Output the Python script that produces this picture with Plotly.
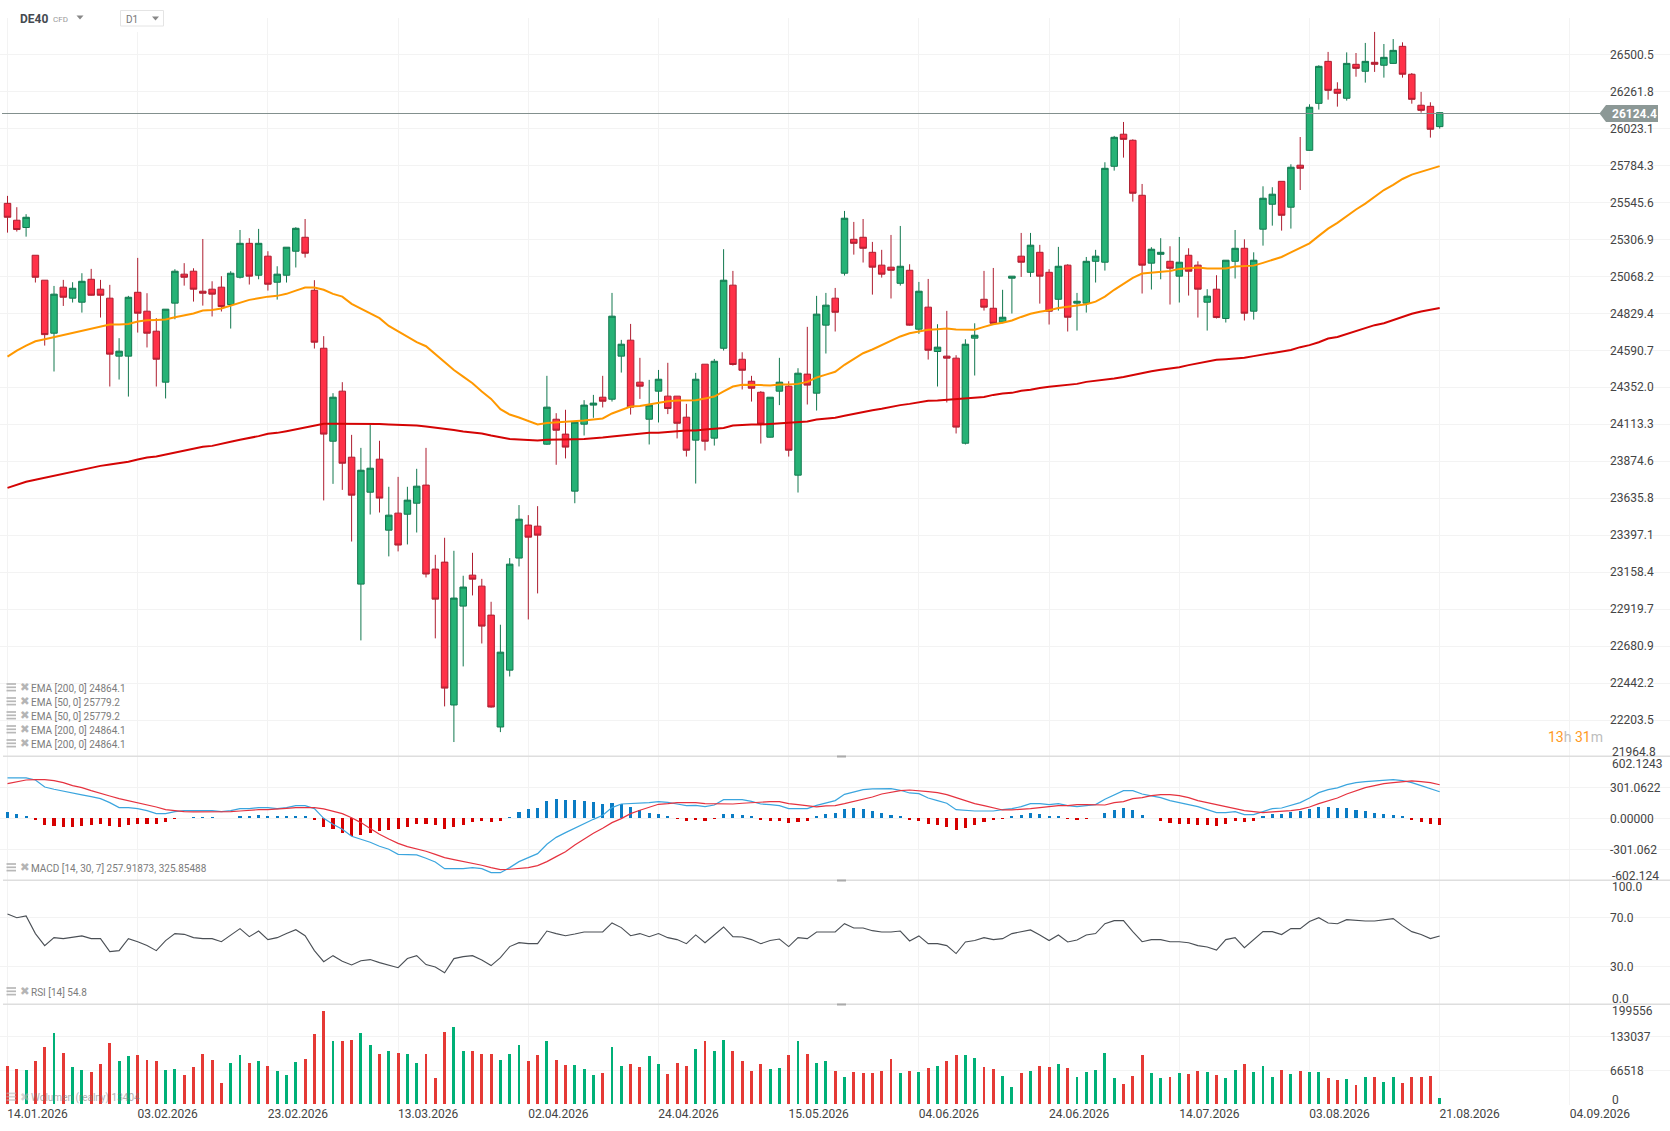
import plotly.graph_objects as go

WIDTH = 1670
HEIGHT = 1131

tick_every = 14
date_labels = ['14.01.2026', '03.02.2026', '23.02.2026', '13.03.2026', '02.04.2026', '24.04.2026', '15.05.2026',
               '04.06.2026', '24.06.2026', '14.07.2026', '03.08.2026', '21.08.2026', '04.09.2026']
price_ticks = [26500.5, 26261.8, 26023.1, 25784.3, 25545.6, 25306.9, 25068.2, 24829.4, 24590.7, 24352.0,
               24113.3, 23874.6, 23635.8, 23397.1, 23158.4, 22919.7, 22680.9, 22442.2, 22203.5]
macd_ticks = [301.0622, 0, -301.062]
macd_tick_text = ['301.0622', '0.00000', '-301.062']
rsi_ticks = [70, 30]
volume_ticks = [133037, 66518]

last_price = 26124.4

open_ = [25539, 25430, 25383, 25204, 25043, 24701, 24998, 24927, 24901, 25049,
         24985, 24927, 24553, 24553, 24965, 24843, 24714, 24385, 24895, 25082,
         25101, 24972, 24985, 24998, 24886, 25062, 25281, 25075, 25198, 25030,
         25075, 25230, 25320, 24978, 24604, 24004, 24327, 23901, 23082, 23675,
         23888, 23430, 23540, 23533, 23604, 23721, 23179, 23224, 22302, 22940,
         23140, 23069, 22882, 22160, 22527, 23250, 23463, 23456, 23985, 24146,
         24050, 23682, 24114, 24237, 24288, 24275, 24553, 24656, 24385, 24146,
         24327, 24295, 24295, 24159, 24011, 24501, 24024, 24604, 25011, 24533,
         24391, 24320, 24030, 24327, 24359, 23785, 24437, 24314, 24753, 24927,
         25088, 25307, 25320, 25223, 25140, 25127, 25023, 25107, 24727, 24869,
         24583, 24553, 24540, 23991, 24669, 24920, 24862, 24772, 25056, 25198,
         25094, 25223, 25094, 24920, 25140, 24895, 24895, 25165, 25159, 25778,
         25985, 25946, 25591, 25153, 25210, 25165, 25069, 25204, 25140, 24901,
         24985, 24796, 25165, 25249, 24843, 25372, 25533, 25681, 25514, 25785,
         25881, 26184, 26455, 26275, 26217, 26436, 26391, 26449, 26430, 26442,
         26552, 26372, 26172, 26165, 26034]

close = [25449, 25370, 25449, 25062, 24692, 24953, 24933, 24991, 25036, 24946,
         24946, 24566, 24585, 24933, 24830, 24701, 24533, 24856, 25101, 25062,
         24985, 24959, 24953, 24873, 25088, 25281, 25069, 25281, 25017, 25082,
         25256, 25378, 25217, 24643, 24050, 24288, 23862, 23656, 23817, 23830,
         23637, 23527, 23334, 23624, 23714, 23147, 22985, 22411, 22992, 23063,
         23114, 22811, 22289, 22643, 23211, 23501, 23385, 23398, 24224, 24075,
         23966, 24127, 24237, 24250, 24262, 24811, 24630, 24224, 24359, 24237,
         24404, 24215, 24120, 23946, 24404, 24004, 24520, 25043, 24499, 24462,
         24346, 24114, 24288, 24385, 23946, 24443, 24366, 24824, 24882, 24836,
         25443, 25281, 25249, 25127, 25082, 25107, 25133, 24753, 24972, 24591,
         24611, 24540, 24095, 24630, 24688, 24869, 24765, 24804, 25069, 25159,
         25269, 25069, 24843, 25133, 24804, 24907, 25165, 25198, 25765, 25965,
         25952, 25604, 25140, 25243, 25223, 25120, 25159, 25101, 24985, 24940,
         24802, 25172, 25249, 24830, 25172, 25572, 25598, 25462, 25772, 25765,
         26159, 26423, 26268, 26249, 26442, 26410, 26455, 26436, 26481, 26526,
         26372, 26210, 26139, 26017, 26124]

high = [25587, 25514, 25469, 25204, 25043, 25006, 25045, 25030, 25088, 25116,
        25045, 25013, 24669, 24942, 25187, 24959, 24798, 24856, 25114, 25153,
        25120, 25309, 25036, 25069, 25101, 25367, 25314, 25374, 25230, 25133,
        25256, 25385, 25438, 25043, 24682, 24314, 24385, 24045, 23961, 24110,
        24007, 23710, 23774, 23710, 23826, 23961, 23271, 23381, 23297, 23136,
        23284, 23116, 22968, 22820, 23250, 23592, 23527, 23585, 24426, 24185,
        24207, 24133, 24269, 24303, 24426, 24961, 24658, 24761, 24542, 24400,
        24464, 24510, 24295, 24245, 24445, 24501, 24535, 25243, 25103, 24578,
        24426, 24327, 24288, 24542, 24391, 24475, 24742, 24942, 24961, 24993,
        25490, 25419, 25438, 25290, 25239, 25335, 25393, 25146, 25032, 25051,
        24759, 24845, 24559, 24662, 24765, 25103, 25122, 24981, 25069, 25348,
        25348, 25271, 25114, 25258, 25146, 24961, 25193, 25239, 25804, 25974,
        26064, 25952, 25664, 25256, 25314, 25262, 25322, 25249, 25165, 24985,
        25075, 25172, 25367, 25307, 25223, 25649, 25643, 25681, 25791, 25967,
        26178, 26430, 26516, 26320, 26513, 26509, 26574, 26645, 26567, 26599,
        26578, 26380, 26258, 26191, 26126]

low = [25350, 25357, 25324, 25028, 24621, 24454, 24877, 24899, 24834, 24944,
       24802, 24357, 24402, 24292, 24705, 24609, 24357, 24280, 24791, 25008,
       24905, 24879, 24809, 24841, 24731, 25054, 25015, 25049, 24976, 24918,
       25028, 25125, 25189, 24602, 23622, 23729, 23690, 23357, 22719, 23531,
       23544, 23261, 23293, 23338, 23415, 23125, 22732, 22293, 22063, 22551,
       23009, 22699, 22285, 22127, 22486, 23196, 22854, 23022, 23981, 23852,
       23893, 23604, 24041, 24155, 24222, 24260, 24447, 24176, 24277, 23983,
       24125, 24179, 24022, 23905, 23731, 23944, 23976, 24589, 24492, 24338,
       24260, 23989, 24028, 24237, 23905, 23673, 24241, 24202, 24570, 24712,
       25073, 25208, 25157, 24950, 25060, 24925, 25008, 24750, 24697, 24531,
       24357, 24254, 24054, 23983, 24428, 24847, 24763, 24765, 24828, 25064,
       25064, 24892, 24757, 24847, 24712, 24718, 24834, 25028, 25105, 25750,
       25834, 25550, 24957, 24983, 25049, 24886, 24899, 24944, 24802, 24718,
       24796, 24770, 25054, 24783, 24789, 25266, 25395, 25363, 25376, 25625,
       25878, 26144, 26208, 26163, 26202, 26356, 26318, 26387, 26350, 26440,
       26350, 26182, 26124, 25963, 26021]

ema50 = [24550, 24589, 24621, 24649, 24662, 24675, 24692, 24705, 24718, 24731,
         24744, 24757, 24757, 24761, 24776, 24785, 24787, 24789, 24804, 24815,
         24828, 24847, 24851, 24860, 24879, 24899, 24916, 24927, 24937, 24942,
         24955, 24976, 24996, 24996, 24981, 24955, 24937, 24890, 24860, 24830,
         24798, 24748, 24712, 24675, 24643, 24617, 24566, 24516, 24464, 24421,
         24378, 24325, 24277, 24211, 24176, 24157, 24136, 24112, 24121, 24125,
         24129, 24131, 24138, 24144, 24151, 24183, 24206, 24228, 24232, 24241,
         24254, 24262, 24267, 24267, 24269, 24280, 24292, 24325, 24357, 24368,
         24368, 24366, 24363, 24370, 24370, 24374, 24387, 24415, 24434, 24452,
         24497, 24533, 24572, 24596, 24624, 24652, 24680, 24701, 24714, 24723,
         24727, 24731, 24725, 24723, 24723, 24742, 24759, 24768, 24783, 24806,
         24826, 24839, 24849, 24864, 24871, 24877, 24888, 24905, 24937, 24981,
         25017, 25058, 25086, 25092, 25097, 25103, 25116, 25120, 25125, 25118,
         25116, 25118, 25131, 25135, 25137, 25155, 25172, 25193, 25223, 25253,
         25281, 25329, 25376, 25413, 25458, 25499, 25537, 25583, 25625, 25658,
         25696, 25724, 25742, 25759, 25779]

ema200 = [23703, 23723, 23742, 23755, 23768, 23781, 23794, 23809, 23822, 23835,
          23845, 23854, 23862, 23871, 23886, 23899, 23905, 23918, 23931, 23942,
          23955, 23968, 23974, 23985, 24000, 24013, 24024, 24037, 24052, 24058,
          24069, 24082, 24093, 24105, 24116, 24116, 24116, 24117, 24116, 24116,
          24115, 24112, 24110, 24108, 24105, 24099, 24093, 24084, 24077, 24067,
          24060, 24054, 24041, 24028, 24019, 24015, 24013, 24009, 24013, 24013,
          24015, 24017, 24019, 24022, 24028, 24034, 24039, 24045, 24052, 24058,
          24058, 24065, 24069, 24073, 24073, 24080, 24086, 24090, 24105, 24110,
          24112, 24112, 24116, 24118, 24123, 24125, 24131, 24144, 24151, 24155,
          24168, 24181, 24194, 24204, 24213, 24226, 24237, 24245, 24254, 24265,
          24267, 24271, 24277, 24280, 24284, 24290, 24303, 24312, 24316, 24329,
          24336, 24348, 24355, 24361, 24368, 24374, 24387, 24394, 24400, 24409,
          24419, 24432, 24443, 24456, 24465, 24473, 24482, 24495, 24505, 24516,
          24529, 24533, 24537, 24542, 24553, 24563, 24574, 24583, 24593, 24611,
          24624, 24643, 24667, 24677, 24695, 24712, 24733, 24753, 24765, 24787,
          24808, 24826, 24841, 24851, 24864.1]

macd_line = [392, 392, 392, 372, 304, 282, 262, 243, 227, 210,
             191, 152, 104, 104, 94, 74, 45, 45, 65, 74,
             74, 74, 74, 65, 74, 94, 94, 104, 104, 94,
             104, 123, 123, 94, 0, -58, -107, -175, -204, -233,
             -272, -301, -350, -356, -356, -388, -424, -489, -489, -489,
             -479, -489, -528, -528, -479, -421, -382, -343, -252, -185,
             -139, -94, -49, -10, 29, 104, 139, 142, 152, 152,
             162, 155, 139, 123, 126, 113, 129, 181, 181, 181,
             165, 139, 133, 123, 94, 97, 94, 126, 152, 172,
             233, 259, 278, 285, 288, 288, 272, 246, 240, 197,
             172, 146, 84, 74, 71, 71, 71, 84, 94, 113,
             142, 142, 133, 142, 123, 113, 123, 133, 185, 227,
             269, 269, 236, 217, 201, 172, 155, 133, 113, 84,
             55, 55, 65, 36, 36, 65, 94, 100, 129, 152,
             197, 249, 278, 295, 327, 346, 356, 363, 372, 375,
             366, 346, 317, 288, 257.9]

macd_signal = [337, 353, 372, 375, 375, 366, 346, 317, 298, 269,
               240, 217, 191, 172, 152, 133, 110, 84, 71, 65,
               62, 62, 62, 62, 65, 71, 78, 84, 84, 94,
               97, 104, 104, 104, 91, 71, 45, 6, -42, -100,
               -155, -201, -243, -275, -295, -320, -350, -382, -401, -418,
               -437, -456, -479, -498, -495, -489, -479, -460, -421, -372,
               -324, -259, -201, -146, -97, -42, -3, 45, 78, 107,
               136, 142, 152, 152, 152, 142, 139, 139, 139, 146,
               152, 155, 162, 162, 142, 133, 120, 110, 120, 123,
               142, 162, 188, 207, 236, 256, 269, 275, 269, 259,
               249, 230, 201, 172, 142, 123, 104, 81, 81, 84,
               94, 104, 113, 123, 123, 133, 133, 133, 129, 152,
               162, 191, 201, 220, 230, 230, 220, 201, 172, 152,
               133, 113, 94, 74, 65, 55, 62, 65, 74, 87,
               110, 142, 172, 197, 236, 269, 298, 317, 337, 346,
               356, 363, 356, 346, 325.9]

macd_hist = [62, 42, 23, -13, -65, -74, -84, -84, -74, -65,
             -55, -74, -84, -65, -55, -55, -55, -36, -6, 0,
             6, 6, 6, 0, 0, 23, 23, 32, 10, 10,
             10, 23, 23, -16, -84, -104, -142, -175, -162, -142,
             -123, -113, -104, -84, -55, -55, -65, -104, -84, -65,
             -36, -26, -36, -26, 6, 62, 91, 100, 168, 188,
             178, 178, 168, 159, 139, 149, 139, 110, 81, 52,
             42, 10, -6, -26, -16, -26, -6, 42, 42, 32,
             10, -19, -26, -26, -45, -36, -26, 10, 42, 52,
             91, 100, 91, 71, 52, 32, 10, -16, -26, -55,
             -65, -84, -113, -94, -65, -36, -16, -6, 23, 32,
             52, 42, 23, 23, -6, -16, -6, 0, 52, 81,
             100, 81, 32, 0, -26, -45, -55, -55, -65, -65,
             -74, -55, -26, -36, -26, 10, 42, 42, 62, 71,
             91, 110, 110, 100, 100, 81, 71, 52, 42, 32,
             10, -16, -36, -55, -65]

rsi = [72.7, 69.7, 71.1, 56.7, 46.9, 53.4, 52.6, 53.9, 54.8, 52.6,
       52.6, 42.0, 42.8, 52.6, 50.1, 46.9, 42.8, 51.0, 56.7, 56.1,
       53.4, 52.6, 52.6, 50.1, 55.6, 60.8, 54.2, 58.8, 51.8, 53.4,
       56.7, 59.9, 55.0, 42.8, 33.8, 38.7, 34.1, 31.1, 34.6, 35.5,
       33.0, 31.1, 28.9, 36.3, 38.7, 31.4, 29.5, 24.8, 36.3, 37.9,
       38.7, 35.2, 30.6, 37.1, 46.1, 49.3, 48.5, 48.5, 58.8, 56.7,
       55.0, 56.4, 58.0, 58.0, 58.0, 65.4, 61.6, 55.0, 56.7, 54.2,
       56.7, 53.4, 51.8, 48.5, 55.6, 49.3, 55.9, 62.1, 54.2, 53.9,
       51.8, 48.5, 51.0, 52.3, 46.1, 53.4, 52.6, 58.0, 58.0, 58.0,
       64.8, 61.3, 61.3, 59.1, 58.0, 58.0, 58.8, 50.7, 54.8, 48.5,
       48.5, 46.9, 40.4, 49.9, 51.0, 53.4, 51.8, 52.6, 56.7, 58.3,
       59.7, 55.6, 51.0, 55.6, 49.9, 51.5, 55.6, 56.7, 64.8, 67.3,
       67.3, 58.3, 50.1, 51.8, 51.8, 50.1, 50.1, 49.3, 46.9, 45.8,
       43.3, 51.8, 53.4, 45.2, 51.8, 58.3, 58.3, 55.9, 60.8, 60.8,
       66.5, 69.7, 65.4, 64.8, 68.1, 67.3, 67.0, 67.0, 68.1, 68.9,
       63.2, 58.3, 55.9, 52.6, 54.8]

volume = [75632, 69764, 67808, 85412, 112796, 140180, 101060, 73676, 67808, 63896,
          79544, 120620, 85412, 95192, 97148, 87368, 85412, 67808, 69764, 58028,
          73676, 99104, 87368, 42380, 81500, 97148, 81500, 85412, 75632, 65852,
          58028, 83456, 89324, 138224, 183212, 124532, 124532, 126488, 140180, 116708,
          99104, 104972, 101060, 99104, 81500, 99104, 52160, 142136, 151916, 104972,
          104972, 99104, 99104, 87368, 99104, 116708, 85412, 97148, 124532, 87368,
          77588, 77588, 69764, 58028, 61940, 112796, 75632, 79544, 73676, 95192,
          79544, 59984, 81500, 75632, 108884, 124532, 104972, 126488, 104972, 85412,
          65852, 79544, 69764, 71720, 97148, 124532, 99104, 81500, 85412, 65852,
          54116, 63896, 61940, 61940, 65852, 89324, 61940, 65852, 63896, 71720,
          75632, 85412, 97148, 97148, 91280, 73676, 69764, 56072, 34556, 61940,
          65852, 75632, 73676, 79544, 71720, 54116, 63896, 67808, 101060, 52160,
          40424, 56072, 97148, 61940, 52160, 54116, 61940, 59984, 65852, 63896,
          58028, 52160, 67808, 79544, 63896, 75632, 54116, 67808, 59984, 65852,
          63896, 63896, 52160, 48248, 50204, 38468, 54116, 54116, 44336, 54116,
          42380, 54116, 54116, 56072, 13404]

legend_ema = ['EMA [200, 0] 24864.1', 'EMA [50, 0] 25779.2', 'EMA [50, 0] 25779.2',
              'EMA [200, 0] 24864.1', 'EMA [200, 0] 24864.1']


def px_x(x):
    return x / WIDTH


def px_y(y):
    return 1 - y / HEIGHT


candle_x = list(range(len(close)))
# one candle is 9.3 px wide in the picture, first one sits 7.5 px from the left edge
x_range = [-7.5 / 9.3, (WIDTH - 7.5) / 9.3]

up_vol = '#00B077'
down_vol = '#E53935'
vol_colors = [up_vol if c >= o else down_vol for o, c in zip(open_, close)]
hist_colors = ['#0A7CC4' if h >= 0 else '#D60000' for h in macd_hist]

fig = go.Figure()

fig.add_trace(go.Candlestick(
    x=candle_x, open=open_, high=high, low=low, close=close, yaxis='y',
    increasing=dict(line=dict(color='#12784F', width=1), fillcolor='#26B276'),
    decreasing=dict(line=dict(color='#AE1E30', width=1), fillcolor='#FF3148'),
    whiskerwidth=0,
))
fig.add_trace(go.Scatter(x=candle_x, y=ema200, mode='lines', yaxis='y', line=dict(color='#D40404', width=2)))
fig.add_trace(go.Scatter(x=candle_x, y=ema50, mode='lines', yaxis='y', line=dict(color='#FF9800', width=2)))

fig.add_trace(go.Bar(x=candle_x, y=macd_hist, yaxis='y2', marker=dict(color=hist_colors, line_width=0), width=0.33))
fig.add_trace(go.Scatter(x=candle_x, y=macd_line, mode='lines', yaxis='y2', line=dict(color='#3BA5DE', width=1.2)))
fig.add_trace(go.Scatter(x=candle_x, y=macd_signal, mode='lines', yaxis='y2', line=dict(color='#E5323F', width=1.2)))

fig.add_trace(go.Scatter(x=candle_x, y=rsi, mode='lines', yaxis='y3', line=dict(color='#4A4F55', width=1.1)))

fig.add_trace(go.Bar(x=candle_x, y=volume, yaxis='y4', marker=dict(color=vol_colors, line_width=0), width=0.32))

grid = '#F3F3F3'
label_font = dict(family='Roboto', size=12, color='#444444')
y_axis_base = dict(side='right', anchor='free', position=px_x(1609), showgrid=True, gridcolor=grid, gridwidth=1,
                   zeroline=False, showline=False, ticks='', tickfont=label_font, fixedrange=True)

fig.update_layout(
    width=WIDTH, height=HEIGHT, autosize=False, showlegend=False,
    margin=dict(l=0, r=0, t=0, b=0), paper_bgcolor='white', plot_bgcolor='white',
    bargap=0, hovermode=False, boxgap=0.3, boxgroupgap=0,
    xaxis=dict(domain=[0, 1], range=x_range, anchor='y4', rangeslider=dict(visible=False),
               tickmode='array', tickvals=[i * tick_every for i in range(len(date_labels))], ticktext=date_labels,
               showgrid=True, gridcolor=grid, gridwidth=1, zeroline=False, showline=False, ticks='',
               tickfont=label_font, ticklabelshift=30, ticklabelstandoff=0),
    yaxis=dict(y_axis_base, domain=[px_y(756.3), 1], range=[21971, 26851],
               tickmode='array', tickvals=price_ticks, ticktext=['%.1f' % p for p in price_ticks]),
    yaxis2=dict(y_axis_base, domain=[px_y(880.3), px_y(756.3)], range=[-602.12, 602.12],
                tickmode='array', tickvals=macd_ticks, ticktext=macd_tick_text),
    yaxis3=dict(y_axis_base, domain=[px_y(1004.3), px_y(880.3)], range=[-1, 100.2],
                tickmode='array', tickvals=rsi_ticks, ticktext=['70.0', '30.0']),
    yaxis4=dict(y_axis_base, domain=[px_y(1104.7), px_y(1004.3)], range=[0, 196430],
                tickmode='array', tickvals=volume_ticks, ticktext=[str(v) for v in volume_ticks]),
)

shapes = []
# header strip hides the top of the grid, same as the toolbar in the platform
shapes.append(dict(type='rect', xref='paper', yref='paper', x0=0, x1=1, y0=px_y(18), y1=1,
                   fillcolor='white', line_width=0, layer='above'))
shapes.append(dict(type='rect', xref='paper', yref='paper', x0=px_x(100), x1=px_x(170), y0=px_y(32), y1=px_y(17),
                   fillcolor='white', line_width=0, layer='above'))
shapes.append(dict(type='rect', xref='paper', yref='paper', x0=px_x(120.5), x1=px_x(163.5), y0=px_y(26), y1=px_y(10.5),
                   fillcolor='white', line=dict(color='#E4E4E4', width=1), layer='above'))

# last price line and tag
shapes.append(dict(type='line', xref='paper', yref='paper', x0=px_x(2), x1=px_x(1600), y0=px_y(113.5), y1=px_y(113.5),
                   line=dict(color='#83908E', width=1), layer='above'))
shapes.append(dict(type='path', xref='paper', yref='paper', line_width=0, fillcolor='#8C9896', layer='above',
                   path='M %f %f L %f %f L %f %f L %f %f L %f %f Z' % (
                       px_x(1599.5), px_y(113.5), px_x(1606), px_y(105), px_x(1658), px_y(105),
                       px_x(1658), px_y(122), px_x(1606), px_y(122))))

# panel borders with the little drag handles
for border in [756.3, 880.3, 1004.3]:
    shapes.append(dict(type='line', xref='paper', yref='paper', x0=px_x(3), x1=1, y0=px_y(border), y1=px_y(border),
                       line=dict(color='#DEDEDE', width=1.5), layer='above'))
    shapes.append(dict(type='rect', xref='paper', yref='paper', x0=px_x(837), x1=px_x(846), y0=px_y(border + 1.2),
                       y1=px_y(border - 0.8), fillcolor='#AAAAAA', line_width=0, layer='above'))

# icons in front of the indicator rows
legend_rows = [(688.3, 1.0), (702.3, 1.0), (716.3, 1.0), (730.3, 1.0), (744.3, 1.0), (868.3, 1.0), (992.3, 1.0),
               (1097.7, 0.6)]
for row_y, row_opacity in legend_rows:
    for bar_dy in [-4.3, -1.0, 2.3]:
        shapes.append(dict(type='line', xref='paper', yref='paper', x0=px_x(6.5), x1=px_x(16), y0=px_y(row_y + bar_dy),
                           y1=px_y(row_y + bar_dy), line=dict(color='#B8B8B8', width=1.7), layer='above',
                           opacity=row_opacity))

for tri_x, cy in [(80, 17.5), (155.5, 18.5)]:
    shapes.append(dict(type='path', xref='paper', yref='paper', line_width=0, fillcolor='#888888', layer='above',
                       path='M %f %f L %f %f L %f %f Z' % (px_x(tri_x - 3.5), px_y(cy - 2), px_x(tri_x + 3.5), px_y(cy - 2),
                                                           px_x(tri_x), px_y(cy + 2))))
fig.update_layout(shapes=shapes)


def add_text(x, y, text, size=12, color='#444444', family='Roboto', anchor='left'):
    fig.add_annotation(xref='paper', yref='paper', x=px_x(x), y=px_y(y), text=text, showarrow=False,
                       xanchor=anchor, yanchor='middle', align=anchor, borderpad=0, borderwidth=0,
                       font=dict(family=family, size=size, color=color))


def add_legend_row(y, text, opacity=1.0):
    fig.add_annotation(xref='paper', yref='paper', x=px_x(18.5), y=px_y(y - 1), text='✖', showarrow=False,
                       xanchor='left', yanchor='middle', opacity=opacity, borderpad=0,
                       font=dict(family='DejaVu Sans', size=11.5, color='#B5B5B5'))
    fig.add_annotation(xref='paper', yref='paper', x=px_x(30), y=px_y(y), text=text, showarrow=False,
                       xanchor='left', yanchor='middle', opacity=opacity, borderpad=0,
                       font=dict(family='Roboto', size=10, color='#7C7C7C'))


# top left symbol box
add_text(19.5, 18.5, '<b>DE40</b>', size=12, color='#454A50')
add_text(52.5, 19.5, 'CFD', size=8, color='#999999')
add_text(126, 19.5, 'D1', size=10, color='#777777')

add_text(1611.5, 114, '<b>%.1f</b>' % last_price, size=12, color='white')

# edge labels are pushed inside the panel by the platform
add_text(1611.5, 751.5, '21964.8')
add_text(1611.5, 764, '602.1243')
add_text(1611.5, 875.5, '-602.124')
add_text(1611.5, 886.5, '100.0')
add_text(1611.5, 998.5, '0.0')
add_text(1611.5, 1010.5, '199556')
add_text(1611.5, 1100, '0')

fig.add_annotation(xref='paper', yref='paper', x=px_x(1547), y=px_y(737), showarrow=False, xanchor='left',
                   yanchor='middle', borderpad=0,
                   text='<span style="color:#FF9A1F">13</span><span style="color:#BDBDBD">h</span> '
                        '<span style="color:#FF9A1F">31</span><span style="color:#BDBDBD">m</span>',
                   font=dict(family='Roboto', size=14, color='#FF9A1F'))

for row_y, row_text in zip([688.3, 702.3, 716.3, 730.3, 744.3], legend_ema):
    add_legend_row(row_y, row_text)
add_legend_row(868.3, 'MACD [14, 30, 7] 257.91873, 325.85488')
add_legend_row(992.3, 'RSI [14] 54.8')
add_legend_row(1097.7, 'Wolumen (realny) 13404', opacity=0.6)

fig.write_html("out.html", config=dict(displayModeBar=False),
               post_script="document.body.style.margin='0';document.body.style.overflow='hidden';")
